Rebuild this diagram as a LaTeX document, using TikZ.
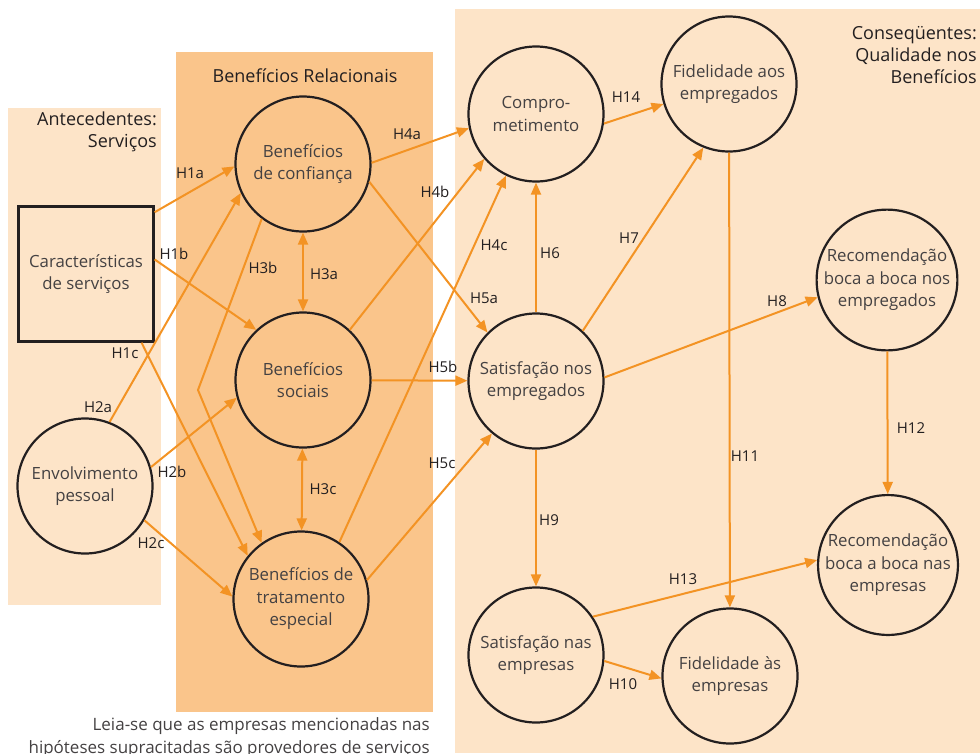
\documentclass[tikz,border=0pt]{standalone}
\usepackage{fontspec}
\setmainfont{Open Sans}
\usetikzlibrary{arrows.meta}
\definecolor{ClaroClr}{RGB}{253,228,200}
\definecolor{EscuroClr}{RGB}{250,197,139}
\definecolor{SetaClr}{RGB}{243,147,36}
\definecolor{TextoClr}{RGB}{35,31,32}

\begin{document}
\begin{tikzpicture}[x=1pt,y=-1pt,
  construto/.style={circle,draw=TextoClr,line width=2.2pt,minimum size=135pt,inner sep=0pt,
    align=center,text=TextoClr!85,font=\fontsize{16.8}{22.5}\selectfont},
  caixa/.style={construto,rectangle},
  rel/.style={draw=SetaClr,line width=2pt,-{Triangle[length=12pt,width=10pt]}},
  reldupla/.style={rel,{Triangle[length=12pt,width=10pt]}-{Triangle[length=12pt,width=10pt]}},
  hip/.style={inner sep=0pt,text=TextoClr,font=\fontsize{15}{17}\selectfont},
  titulo/.style={inner sep=0pt,align=right,text=TextoClr,font=\fontsize{18}{22}\selectfont}]
\useasboundingbox (0,0) rectangle (980,753);

% Painéis de fundo.
\fill[ClaroClr] (8,108) rectangle (161,605);
\fill[EscuroClr] (176,52) rectangle (433,712);
\fill[ClaroClr] (455,9) rectangle (980,753);

% Títulos dos painéis.
\node[titulo,anchor=north east] (tant) at (157,112) {Antecedentes:\\Serviços};
\node[titulo,anchor=base] (tben) at (305,82) {Benefícios Relacionais};
\node[titulo,anchor=north east] (tcon) at (977,26) {Conseqüentes:\\Qualidade nos\\Benefícios};

% Construtos.
\node[caixa] (carac) at (86,274) {Características\\de serviços};
\node[construto] (envol) at (85,486) {Envolvimento\\pessoal};
\node[construto] (conf) at (303,164) {Benefícios\\de confiança};
\node[construto] (soc) at (303,380) {Benefícios\\sociais};
\node[construto] (trat) at (301,599) {Benefícios de\\tratamento\\especial};
\node[construto] (comp) at (536,114) {Compro-\\metimento};
\node[construto] (fidemp) at (729,84) {Fidelidade aos\\empregados};
\node[construto] (recemp) at (887,280) {Recomendação\\boca a boca nos\\empregados};
\node[construto] (satemp) at (536,381) {Satisfação nos\\empregados};
\node[construto] (satfir) at (536,655) {Satisfação nas\\empresas};
\node[construto] (fidfir) at (730,676) {Fidelidade às\\empresas};
\node[construto] (recfir) at (888,565) {Recomendação\\boca a boca nas\\empresas};

% Hipóteses H1 e H2.
\draw[rel] (carac.42) -- (conf.182);
\draw[rel] (carac.12) -- (soc.133);
\draw[rel] (carac.-51) -- (trat.141);
\draw[rel] (envol.69) -- (conf.205);
\draw[rel] (envol.16) -- (soc.195);
\draw[rel] (envol.-30) -- (trat.178);

% Hipóteses H3.
\coordinate (dobra) at (198,390);
\draw[reldupla] (conf) -- (soc);
\draw[rel] (conf.233) -- (dobra) -- (trat.125);
\draw[reldupla] (soc) -- (trat);

% Hipóteses H4 e H5.
\draw[rel] (conf.1) -- (comp.192);
\draw[rel] (soc.47) -- (comp.221);
\draw[rel] (trat.56) -- (comp.244);
\draw[rel] (conf.-15) -- (satemp.135);
\draw[rel] (soc) -- (satemp);
\draw[rel] (trat.16) -- (satemp.230);

% Hipóteses H6 a H14.
\draw[rel] (satemp) -- (comp);
\draw[rel] (satemp.47) -- (fidemp.248);
\draw[rel] (satemp.3) -- (recemp.194);
\draw[rel] (satemp) -- (satfir);
\draw[rel] (satfir.-5) -- (fidfir.182);
\draw[rel] (fidemp) -- (fidfir);
\draw[rel] (recemp) -- (recfir);
\draw[rel] (satfir.34) -- (recfir.176);
\draw[rel] (comp.-8) -- (fidemp.197);

% Rótulos das hipóteses.
\node[hip] (h1a) at (190,173) {H1a};
\node[hip] (h1b) at (174,254) {H1b};
\node[hip] (h1c) at (125,353) {H1c};
\node[hip] (h2a) at (98,407) {H2a};
\node[hip] (h2b) at (172,472) {H2b};
\node[hip] (h2c) at (151,543) {H2c};
\node[hip] (h3a) at (324,274) {H3a};
\node[hip] (h3b) at (263,268) {H3b};
\node[hip] (h3c) at (323,489) {H3c};
\node[hip] (h4a) at (407,134) {H4a};
\node[hip] (h4b) at (435,192) {H4b};
\node[hip] (h4c) at (494,245) {H4c};
\node[hip] (h5a) at (484,298) {H5a};
\node[hip] (h5b) at (443,367) {H5b};
\node[hip] (h5c) at (442,463) {H5c};
\node[hip] (h6) at (550,253) {H6};
\node[hip] (h7) at (629,238) {H7};
\node[hip] (h8) at (777,301) {H8};
\node[hip] (h9) at (549,520) {H9};
\node[hip] (h10) at (623,684) {H10};
\node[hip] (h11) at (745,456) {H11};
\node[hip] (h12) at (911,428) {H12};
\node[hip] (h13) at (683,579) {H13};
\node[hip] (h14) at (626,97) {H14};

% Nota de rodapé.
\node[titulo,anchor=north east,text=TextoClr!85,font=\fontsize{17}{23}\selectfont] (nota) at (430,717)
  {Leia-se que as empresas mencionadas nas\\hipóteses supracitadas são provedores de serviços};

\end{tikzpicture}
\end{document}
